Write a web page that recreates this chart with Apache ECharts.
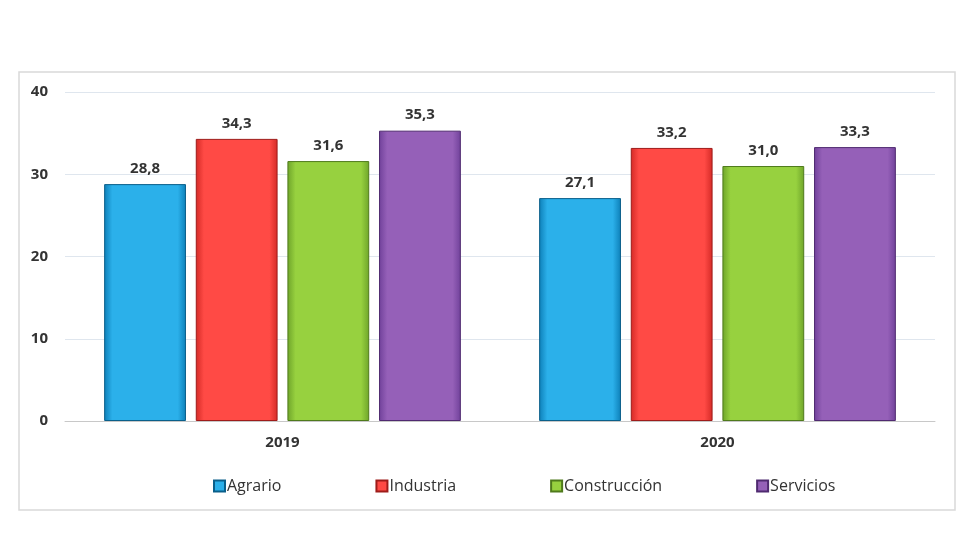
<!DOCTYPE html>
<html><head><meta charset="utf-8">
<script src="https://cdn.jsdelivr.net/npm/echarts@6/dist/echarts.min.js"></script>
<style>html,body{margin:0;padding:0;background:#fff}#c{width:980px;height:560px}</style>
</head><body><div id="c"></div>
<script>
var categories = ['2019', '2020'];
var seriesNames = ['Agrario', 'Industria', 'Construcción', 'Servicios'];
var agrario = [28.8, 27.1];
var industria = [34.3, 33.2];
var construccion = [31.6, 31.0];
var servicios = [35.3, 33.3];
var yTicks = [0, 10, 20, 30, 40];

var values = [agrario, industria, construccion, servicios];
var palette = [
  {mid:'#2bb0ea', edge:'#0d7fb8', border:'#0a5f8a'},
  {mid:'#ff4a45', edge:'#d42a26', border:'#9e1c1a'},
  {mid:'#97d13f', edge:'#6ea42a', border:'#4f7a1c'},
  {mid:'#9560b8', edge:'#70419a', border:'#4f2a70'}
];
function grad(p){
  return new echarts.graphic.LinearGradient(0,0,1,0,[
    {offset:0, color:p.edge},{offset:0.1, color:p.mid},{offset:0.9, color:p.mid},{offset:1, color:p.edge}
  ]);
}
var chart = echarts.init(document.getElementById('c'), null, {renderer:'canvas'});
var font = '"Open Sans", Lato, sans-serif';
chart.setOption({
  animation:false,
  graphic:[{type:'rect', shape:{x:19,y:72,width:936,height:438}, style:{fill:'none', stroke:'#d9d9d9', lineWidth:1.5}, silent:true}],
  grid:{left:65, right:45, top:92, bottom:139},
  legend:{
    bottom:61, left:208, itemGap:94, itemWidth:11, itemHeight:11, icon:'rect',
    textStyle:{fontFamily:font, fontSize:16, color:'#333', padding:[0,0,0,-3]},
    data:seriesNames
  },
  xAxis:{type:'category', data:categories,
    axisLine:{lineStyle:{color:'#c8c8c8'}}, axisTick:{show:false},
    axisLabel:{fontFamily:font, fontSize:15, fontWeight:'bold', color:'#333', margin:14}},
  yAxis:{type:'value', min:yTicks[0], max:yTicks[yTicks.length-1], interval:10,
    axisLine:{show:false}, axisTick:{show:false},
    splitLine:{lineStyle:{color:'#dfe6ee'}},
    axisLabel:{fontFamily:font, fontSize:15, fontWeight:'bold', color:'#333', margin:17,
      formatter:function(v){return String(v);} }},
  series: seriesNames.map(function(n,i){
    return {name:n, type:'bar', data:values[i], barGap:'12%', barCategoryGap:'18%',
      itemStyle:{color:grad(palette[i]), borderColor:palette[i].border, borderWidth:1},
      label:{show:true, position:'top', distance:8, fontFamily:font, fontSize:15, fontWeight:'bold', color:'#333',
        formatter:function(p){return p.value.toFixed(1).replace('.',',');}}};
  })
});
</script></body></html>
